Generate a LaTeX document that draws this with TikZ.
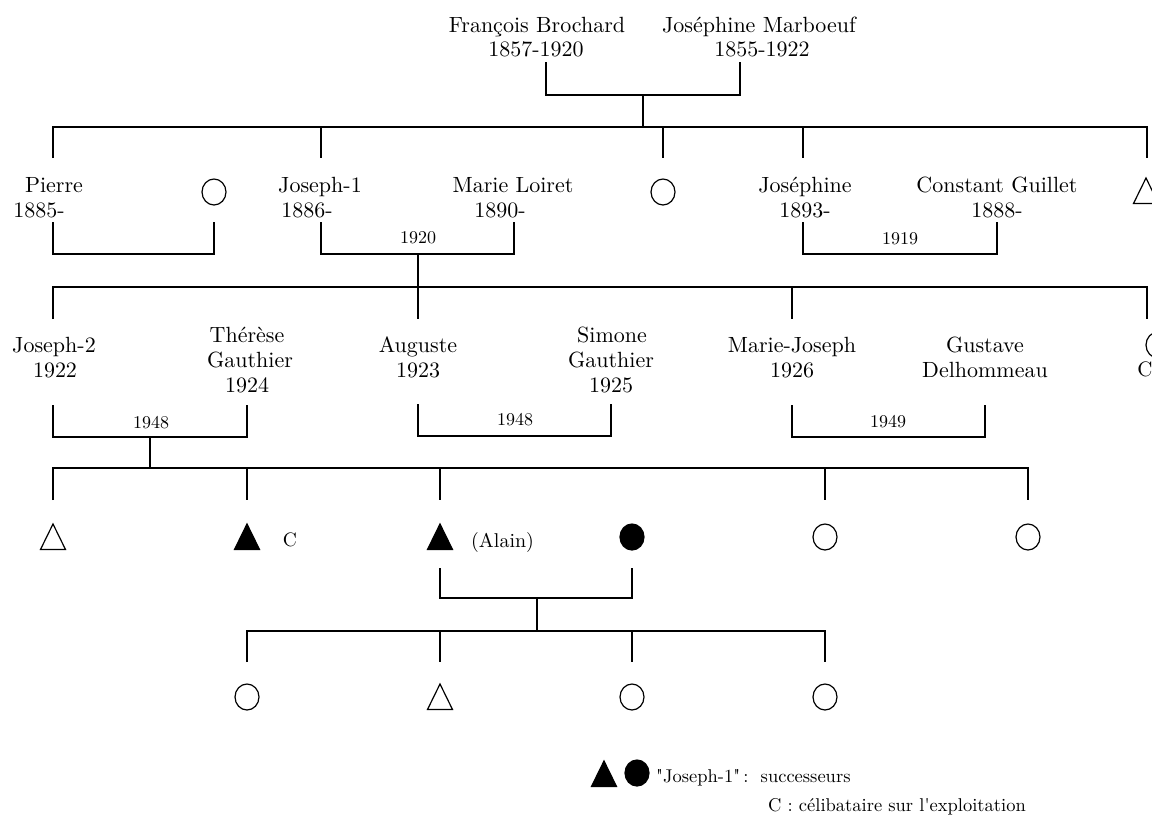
\documentclass[tikz,border=0pt]{standalone}
\usetikzlibrary{shapes.geometric}
\begin{document}
\begin{tikzpicture}[x=1pt,y=-1pt,line width=1.2pt,
  nm/.style={anchor=base,inner sep=0pt,font=\fontsize{10}{12}\selectfont,scale=2.2},
  yr/.style={anchor=base,inner sep=0pt,font=\fontsize{10}{12}\selectfont,scale=1.8},
  lg/.style={anchor=base west,inner sep=0pt,font=\fontsize{10}{12}\selectfont,scale=1.85},
  fem/.style={draw,ellipse,minimum width=24pt,minimum height=26pt,inner sep=0pt,line width=1.2pt},
  femf/.style={fem,fill=black},
  mtri/.pic={\draw[line width=1.2pt,line join=miter] (-12.5,12.5) -- (12.5,12.5) -- (0,-13) -- cycle;},
  mtrif/.pic={\filldraw[line width=1.2pt,line join=miter] (-12.5,12.5) -- (12.5,12.5) -- (0,-13) -- cycle;}]
\useasboundingbox (0,0) rectangle (1152,823);

% ---------- generation 0
\node[nm] (fb) at (537,32) {François Brochard};
\node[nm] (fbd) at (536,56) {1857-1920};
\node[nm] (jm) at (759,32) {Joséphine Marboeuf};
\node[nm] (jmd) at (762,56) {1855-1922};
\coordinate (fbA) at (546,62);
\coordinate (jmA) at (740,62);
\coordinate (c0) at (643,95);
\coordinate (r1) at (643,127);
\draw (fbA) |- (c0) -| (jmA);
\draw (c0) -- (r1);
\draw (53,158) |- (1147,127) -- (1147,158);
\coordinate (d11) at (321,158);
\coordinate (d12) at (663,158);
\coordinate (d13) at (803,158);
\draw (321,127) -- (d11);
\draw (663,127) -- (d12);
\draw (803,127) -- (d13);

% ---------- generation 1
\node[nm] (pierre) at (54,192) {Pierre};
\node[nm] (pierred) at (39,217) {1885-};
\node[fem] (pf) at (214,192) {};
\node[nm] (j1) at (320,192) {Joseph-1};
\node[nm] (j1d) at (307,217) {1886-};
\node[nm] (ml) at (513,192) {Marie Loiret};
\node[nm] (mld) at (500,217) {1890-};
\node[fem] (f2) at (663,192) {};
\node[nm] (jos) at (805,192) {Joséphine};
\node[nm] (josd) at (805,217) {1893-};
\node[nm] (cg) at (997,192) {Constant Guillet};
\node[nm] (cgd) at (997,217) {1888-};
\coordinate (t1) at (1146,191);
\pic at (t1) {mtri};
\node[yr] (m1920) at (418,243) {1920};
\node[yr] (m1919) at (900,244) {1919};

\draw (53,222) |- (214,254) -- (214,222);
\coordinate (c1) at (418,254);
\draw (321,222) |- (c1) -| (514,222);
\draw (803,222) |- (997,254) -- (997,222);
\draw (c1) -- (418,287);
\draw (53,319) |- (1147,287) -- (1147,319);
\draw (418,287) -- (418,319);
\draw (792,287) -- (792,319);

% ---------- generation 2
\node[nm] (j2) at (54,352) {Joseph-2};
\node[nm] (j2d) at (55,377) {1922};
\node[nm] (th1) at (247,342) {Thérèse};
\node[nm] (th2) at (250,367) {Gauthier};
\node[nm] (thd) at (247,392) {1924};
\node[nm] (au) at (418,352) {Auguste};
\node[nm] (aud) at (418,377) {1923};
\node[nm] (si1) at (612,342) {Simone};
\node[nm] (si2) at (611,367) {Gauthier};
\node[nm] (sid) at (611,392) {1925};
\node[nm] (mj) at (792,352) {Marie-Joseph};
\node[nm] (mjd) at (792,377) {1926};
\node[nm] (gd1) at (985,352) {Gustave};
\node[nm] (gd2) at (985,377) {Delhommeau};
\node[fem] (f3) at (1158,345) {};
\node[nm,scale=0.95] (c3) at (1145,376) {C};
\node[yr] (m48a) at (151,428) {1948};
\node[yr] (m48b) at (515,425) {1948};
\node[yr] (m49) at (888,427) {1949};

\coordinate (c2) at (150,437);
\draw (53,405) |- (c2) -| (247,405);
\draw (418,404) |- (611,436) -- (611,404);
\draw (792,405) |- (985,437) -- (985,405);
\draw (c2) -- (150,468);
\draw (53,500) |- (1028,468) -- (1028,500);
\draw (247,468) -- (247,500);
\draw (440,468) -- (440,500);
\draw (825,468) -- (825,500);

% ---------- generation 3
\coordinate (t3a) at (53,537);
\pic at (t3a) {mtri};
\coordinate (t3b) at (247,537);
\pic at (t3b) {mtrif};
\node[lg,anchor=base,scale=1.05] (c3b) at (290,546) {C};
\coordinate (t3c) at (440,537);
\pic at (t3c) {mtrif};
\node[lg,scale=1.08] (alain) at (470,547) {(Alain)};
\node[femf] (f3d) at (632,537) {};
\node[fem] (f3e) at (825,537) {};
\node[fem] (f3f) at (1028,537) {};

\coordinate (c4) at (537,598);
\draw (440,568) |- (c4) -| (632,568);
\draw (c4) -- (537,631);
\draw (247,662) |- (825,631) -- (825,662);
\draw (440,631) -- (440,662);
\draw (632,631) -- (632,662);

% ---------- generation 4
\node[fem] (g4a) at (247,697) {};
\coordinate (t4b) at (440,697);
\pic at (t4b) {mtri};
\node[fem] (g4c) at (632,697) {};
\node[fem] (g4d) at (825,697) {};

% ---------- legend
\coordinate (lt) at (604,774);
\pic at (lt) {mtrif};
\node[femf] (lc) at (637,773) {};
\node[lg] (l1) at (655,782) {\textquotedbl Joseph-1\textquotedbl\,:\ \ successeurs};
\node[lg] (l2) at (767,811) {C : célibataire sur l\textquotesingle exploitation};
\end{tikzpicture}
\end{document}
